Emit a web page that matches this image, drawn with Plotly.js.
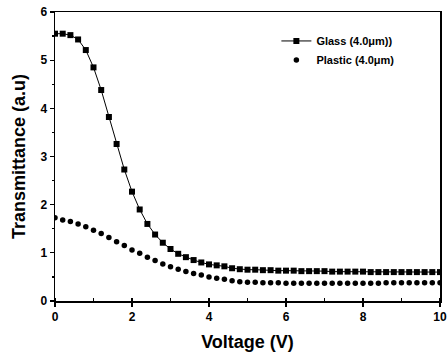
<!DOCTYPE html>
<html><head><meta charset="utf-8">
<script src="https://cdn.plot.ly/plotly-3.0.1.min.js"></script>
<style>html,body{margin:0;padding:0;background:#fff}#plot{width:448px;height:361px}</style>
</head><body><div id="plot"></div>
<script>
var voltage = [0,0.2,0.4,0.6,0.8,1.0,1.2,1.4,1.6,1.8,2.0,2.2,2.4,2.6,2.8,3.0,3.2,3.4,3.6,3.8,4.0,4.2,4.4,4.6,4.8,5.0,5.2,5.4,5.6,5.8,6.0,6.2,6.4,6.6,6.8,7.0,7.2,7.4,7.6,7.8,8.0,8.2,8.4,8.6,8.8,9.0,9.2,9.4,9.6,9.8,10.0];
var glass = [5.55,5.55,5.52,5.43,5.21,4.85,4.38,3.82,3.26,2.73,2.27,1.90,1.60,1.38,1.21,1.08,0.98,0.91,0.85,0.80,0.76,0.74,0.72,0.68,0.66,0.65,0.65,0.64,0.64,0.63,0.63,0.63,0.62,0.62,0.62,0.62,0.61,0.61,0.61,0.61,0.61,0.60,0.60,0.60,0.60,0.60,0.60,0.60,0.60,0.60,0.60];
var plastic = [1.73,1.68,1.65,1.60,1.54,1.47,1.40,1.32,1.23,1.15,1.06,0.99,0.91,0.84,0.77,0.71,0.66,0.61,0.57,0.54,0.50,0.47,0.45,0.42,0.40,0.39,0.39,0.38,0.38,0.38,0.37,0.37,0.37,0.37,0.37,0.37,0.37,0.37,0.37,0.37,0.37,0.37,0.37,0.38,0.38,0.38,0.38,0.38,0.38,0.38,0.38];
var seriesNames = ['Glass (4.0\u03bcm))', 'Plastic (4.0\u03bcm)'];

var F = 'Liberation Sans, Arial, sans-serif';
var traces = [
  {x: voltage, y: glass, name: seriesNames[0], type: 'scatter', mode: 'lines+markers',
   line: {color: '#000', width: 1}, marker: {symbol: 'square', size: 6, color: '#000'}},
  {x: voltage, y: plastic, name: seriesNames[1], type: 'scatter', mode: 'markers',
   marker: {symbol: 'circle', size: 5.5, color: '#000'}}
];
var axisCommon = {
  showgrid: false, zeroline: false, showline: true, linecolor: '#000', linewidth: 1.5,
  mirror: true, ticks: 'outside', ticklen: 4, tickwidth: 1.2, tickcolor: '#000',
  ticklabeloverflow: 'allow',
  tickfont: {family: F, size: 12, color: '#000', weight: 'bold'}
};
var layout = {
  width: 448, height: 361,
  margin: {l: 55, r: 8, t: 12, b: 60},
  paper_bgcolor: '#fff', plot_bgcolor: '#fff',
  showlegend: true,
  legend: {x: 0.575, y: 0.95, xanchor: 'left', yanchor: 'top', bgcolor: 'rgba(0,0,0,0)',
           font: {family: F, size: 11, color: '#000', weight: 'bold'}, tracegroupgap: 0, itemwidth: 30},
  xaxis: Object.assign({}, axisCommon, {
    range: [0, 10], dtick: 2, tick0: 0,
    minor: {dtick: 1, ticks: 'inside', ticklen: 3, tickcolor: '#000'},
    title: {text: 'Voltage (V)', standoff: 12, font: {family: F, size: 18, color: '#000', weight: 'bold'}}
  }),
  yaxis: Object.assign({}, axisCommon, {
    range: [0, 6], dtick: 1, tick0: 0,
    minor: {dtick: 0.5, ticks: 'outside', ticklen: 2, tickcolor: '#000'},
    title: {text: 'Transmittance (a.u)', standoff: 10, font: {family: F, size: 18, color: '#000', weight: 'bold'}}
  })
};
Plotly.newPlot('plot', traces, layout, {displayModeBar: false, staticPlot: true});
</script></body></html>
